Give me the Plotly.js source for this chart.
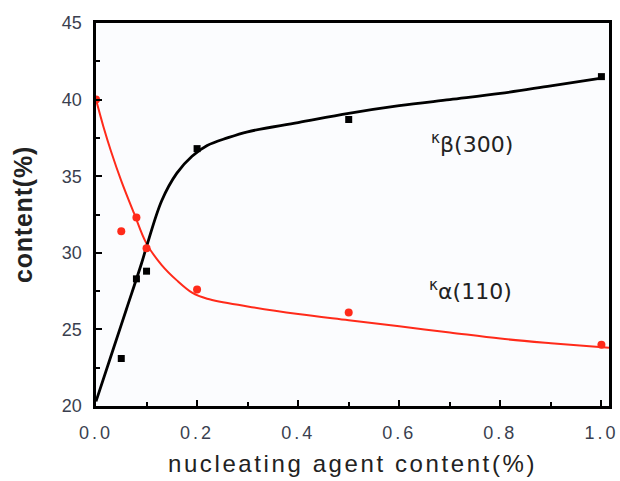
<!DOCTYPE html>
<html>
<head>
<meta charset="utf-8">
<script src="https://cdn.plot.ly/plotly-3.0.1.min.js"></script>
<style>
html,body{margin:0;padding:0;background:#fff;}
#chart{width:620px;height:481px;}
#chart .xtick text{letter-spacing:3px;}
#chart .xtitle{letter-spacing:2.6px;}
#chart .ytitle{letter-spacing:0.8px;}
</style>
</head>
<body>
<div id="chart"></div>
<script>
// measured points
const betaX = [0.05, 0.08, 0.1, 0.2, 0.5, 1.0];
const betaY = [23.1, 28.3, 28.8, 36.8, 38.7, 41.5];
const alphaX = [0.0, 0.05, 0.08, 0.1, 0.2, 0.5, 1.0];
const alphaY = [40.0, 31.4, 32.3, 30.3, 27.6, 26.1, 24.0];
// fitted curves
const betaFitX = [0, 0.035, 0.06, 0.09, 0.1, 0.13, 0.16, 0.19, 0.22, 0.26, 0.3, 0.4, 0.5, 0.6, 0.7, 0.8, 0.9, 1.0];
const betaFitY = [20.3, 23.8, 26.3, 29.3, 30.4, 33.4, 35.2, 36.3, 37.0, 37.5, 37.9, 38.5, 39.1, 39.6, 40.0, 40.4, 40.9, 41.4];
const alphaFitX = [0, 0.015, 0.03, 0.05, 0.075, 0.1, 0.13, 0.16, 0.19, 0.22, 0.3, 0.4, 0.5, 0.6, 0.7, 0.8, 0.9, 1.015];
const alphaFitY = [40.0, 38.2, 36.6, 34.7, 32.6, 30.6, 29.2, 28.2, 27.4, 27.0, 26.5, 26.0, 25.6, 25.2, 24.8, 24.4, 24.1, 23.8];
const labels = ["<sup>κ</sup>β(300)", "<sup>κ</sup>α(110)"];
const labelX = [0.743, 0.741];
const labelY = [37.2, 27.6];

const traces = [
  {x: alphaFitX, y: alphaFitY, mode: 'lines', line: {color: '#ff2a1a', width: 2, shape: 'spline'}, hoverinfo: 'skip'},
  {x: betaFitX, y: betaFitY, mode: 'lines', line: {color: '#000', width: 2.8, shape: 'spline'}, hoverinfo: 'skip'},
  {x: alphaX, y: alphaY, mode: 'markers', marker: {symbol: 'circle', size: 8, color: '#ff2a1a'}},
  {x: betaX, y: betaY, mode: 'markers', marker: {symbol: 'square', size: 7, color: '#000'}}
];

const axisCommon = {
  showline: true, linecolor: '#000', linewidth: 2.6, mirror: true,
  ticks: 'inside', ticklen: 6, tickwidth: 2, tickcolor: '#000',
  showgrid: false, zeroline: false,
  tickfont: {family: 'Liberation Sans, Arial, sans-serif', size: 18, color: '#3a3f4f'}
};

const layout = {
  width: 620, height: 481,
  margin: {l: 96, r: 11, t: 23, b: 75},
  paper_bgcolor: '#fff', plot_bgcolor: '#fbfcfe',
  showlegend: false,
  xaxis: Object.assign({}, axisCommon, {
    range: [0, 1.015], tickvals: [0, 0.2, 0.4, 0.6, 0.8, 1.0],
    ticktext: ['0.0', '0.2', '0.4', '0.6', '0.8', '1.0'],
    ticklabelstandoff: 9,
    minor: {tickvals: [0.1, 0.3, 0.5, 0.7, 0.9], ticks: 'inside', ticklen: 4, tickwidth: 2, tickcolor: '#000'},
    title: {text: 'nucleating agent content(%)', standoff: 13, font: {family: 'Liberation Sans, Arial, sans-serif', size: 24, color: '#222'}}
  }),
  yaxis: Object.assign({}, axisCommon, {
    range: [20, 45], tickvals: [20, 25, 30, 35, 40, 45],
    minor: {tickvals: [22.5, 27.5, 32.5, 37.5, 42.5], ticks: 'inside', ticklen: 4, tickwidth: 2, tickcolor: '#000'},
    ticklabelstandoff: 8,
    title: {text: '<b>content(%)</b>', standoff: 22, font: {family: 'Liberation Sans, Arial, sans-serif', size: 25, color: '#222'}}
  }),
  annotations: labels.map((t, i) => ({
    x: labelX[i], y: labelY[i], xref: 'x', yref: 'y', text: t, showarrow: false,
    font: {family: 'DejaVu Sans, sans-serif', size: 22, color: '#222'}
  }))
};

Plotly.newPlot('chart', traces, layout, {displayModeBar: false, staticPlot: true});
</script>
</body>
</html>
